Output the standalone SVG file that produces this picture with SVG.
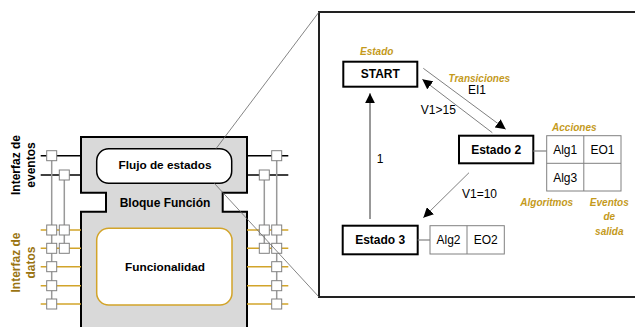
<svg xmlns="http://www.w3.org/2000/svg" width="635" height="327" viewBox="0 0 635 327">
<defs>
<marker id="ah" viewBox="0 0 10 10" refX="10" refY="5" markerWidth="10" markerHeight="10" markerUnits="userSpaceOnUse" orient="auto">
<path d="M0,0 L10,5 L0,10 Z" fill="#000"/>
</marker>
</defs>
<style>
text{font-family:"Liberation Sans",Arial,sans-serif;fill:#000}
.b{font-weight:bold;font-size:12px}
.r{font-size:12px}
.m{text-anchor:middle}
.lab{font-weight:bold;font-style:italic;font-size:10px;fill:#c49a1c;text-anchor:middle}
.sq{fill:#fff;stroke:#808080;stroke-width:1}
.ev{stroke:#000;stroke-width:1.5}
.da{stroke:#d2a42a;stroke-width:1.5}
.vl{stroke:#999;stroke-width:1.5}
.st{fill:#fff;stroke:#000;stroke-width:2}
.tb{fill:#fff;stroke:#808080;stroke-width:1}
.ar{stroke:#808080;stroke-width:1;fill:none;marker-end:url(#ah)}
.zl{stroke:#666;stroke-width:0.8;fill:none}
</style>
<rect x="319" y="12" width="330" height="285" fill="#fff" stroke="#222" stroke-width="2"/>

<g id="bloque">
<path d="M81,137 H247 V192.7 H222.7 V211.7 H247 V340 H81 V211.7 H106 V192.7 H81 Z" fill="#d9d9d9" stroke="#000" stroke-width="2"/>
<text class="b m" x="165" y="206.5">Bloque Función</text>
</g>
<g id="flujo">
<rect x="96.7" y="148.7" width="135" height="34.6" rx="12" fill="#fff" stroke="#000" stroke-width="1.5"/>
<text class="m" x="165" y="169.2" style="font-weight:bold;font-size:11.8px">Flujo de estados</text>
</g>
<g id="funcionalidad">
<rect x="96.7" y="228.3" width="135.3" height="76.7" rx="12" fill="#fff" stroke="#d2a42a" stroke-width="1.5"/>
<text class="m" x="165" y="270.8" style="font-weight:bold;font-size:11.8px">Funcionalidad</text>
</g>

<g id="interfaz-eventos">
<text class="b m" transform="translate(20,165) rotate(-90)">Interfaz de</text>
<text class="b m" transform="translate(34.5,165) rotate(-90)">eventos</text>
</g>
<g id="interfaz-datos">
<text class="b m" transform="translate(20,262.5) rotate(-90)" style="fill:#9a7412">Interfaz de</text>
<text class="b m" transform="translate(34.5,262.5) rotate(-90)" style="fill:#9a7412">datos</text>
</g>

<g id="puertos">
<line class="ev" x1="40.7" y1="155.7" x2="81" y2="155.7"/>
<line class="ev" x1="40.7" y1="175" x2="81" y2="175"/>
<line class="da" x1="40.7" y1="230" x2="81" y2="230"/>
<line class="da" x1="40.7" y1="248.3" x2="81" y2="248.3"/>
<line class="da" x1="40.7" y1="266.7" x2="81" y2="266.7"/>
<line class="da" x1="40.7" y1="285.7" x2="81" y2="285.7"/>
<line class="da" x1="40.7" y1="304" x2="81" y2="304"/>
<line class="vl" x1="51.7" y1="155.7" x2="51.7" y2="304"/>
<line class="vl" x1="64.3" y1="175" x2="64.3" y2="248.3"/>
<rect class="sq" x="46.7" y="150.7" width="10" height="10"/>
<rect class="sq" x="59.3" y="170" width="10" height="10"/>
<rect class="sq" x="46.7" y="225" width="10" height="10"/>
<rect class="sq" x="59.3" y="225" width="10" height="10"/>
<rect class="sq" x="46.7" y="243.3" width="10" height="10"/>
<rect class="sq" x="59.3" y="243.3" width="10" height="10"/>
<rect class="sq" x="46.7" y="261.7" width="10" height="10"/>
<rect class="sq" x="46.7" y="280.7" width="10" height="10"/>
<rect class="sq" x="46.7" y="299" width="10" height="10"/>

<line class="ev" x1="247" y1="155.7" x2="288.3" y2="155.7"/>
<line class="ev" x1="247" y1="175" x2="288.3" y2="175"/>
<line class="da" x1="247" y1="230" x2="288.3" y2="230"/>
<line class="da" x1="247" y1="248.3" x2="288.3" y2="248.3"/>
<line class="da" x1="247" y1="266.7" x2="288.3" y2="266.7"/>
<line class="da" x1="247" y1="285.7" x2="288.3" y2="285.7"/>
<line class="da" x1="247" y1="304" x2="288.3" y2="304"/>
<line class="vl" x1="276.7" y1="155.7" x2="276.7" y2="304"/>
<line class="vl" x1="264.3" y1="175" x2="264.3" y2="248.3"/>
<rect class="sq" x="271.7" y="150.7" width="10" height="10"/>
<rect class="sq" x="259.3" y="170" width="10" height="10"/>
<rect class="sq" x="271.7" y="225" width="10" height="10"/>
<rect class="sq" x="259.3" y="225" width="10" height="10"/>
<rect class="sq" x="271.7" y="243.3" width="10" height="10"/>
<rect class="sq" x="259.3" y="243.3" width="10" height="10"/>
<rect class="sq" x="271.7" y="261.7" width="10" height="10"/>
<rect class="sq" x="271.7" y="280.7" width="10" height="10"/>
<rect class="sq" x="271.7" y="299" width="10" height="10"/>
</g>

<g id="start">
<rect class="st" x="343.3" y="61.7" width="74" height="25"/>
<text class="b m" x="380.3" y="78">START</text>
</g>
<g id="estado2">
<rect class="st" x="459" y="135.7" width="74.3" height="27.6"/>
<text class="b m" x="496.2" y="154">Estado 2</text>
</g>
<g id="estado3">
<rect class="st" x="342.7" y="225.7" width="75" height="28.6"/>
<text class="b m" x="380.2" y="244.2">Estado 3</text>
</g>
<g id="acciones2">
<rect class="tb" x="546.7" y="135.7" width="74.3" height="55.3"/>
<line stroke="#808080" x1="583.8" y1="135.7" x2="583.8" y2="191"/>
<line stroke="#808080" x1="546.7" y1="163.3" x2="621" y2="163.3"/>
<text class="r m" x="565.2" y="154.3">Alg1</text>
<text class="r m" x="602.4" y="154.3">EO1</text>
<text class="r m" x="565.2" y="182">Alg3</text>
</g>
<g id="acciones3">
<rect class="tb" x="430" y="225.7" width="74.3" height="28.3"/>
<line stroke="#808080" x1="467" y1="225.7" x2="467" y2="254"/>
<text class="r m" x="448.5" y="244.2">Alg2</text>
<text class="r m" x="485.7" y="244.2">EO2</text>
</g>

<g id="etiquetas">
<text class="lab" x="376.7" y="55">Estado</text>
<text class="lab" x="479.3" y="82">Transiciones</text>
<text class="lab" x="574.3" y="131">Acciones</text>
<text class="lab" x="546.7" y="206">Algoritmos</text>
<text class="lab" x="609.3" y="205.5">Eventos</text>
<text class="lab" x="609.3" y="220">de</text>
<text class="lab" x="609.3" y="234.5">salida</text>
</g>

<g id="conectores">
<line stroke="#808080" stroke-width="1.2" x1="533.3" y1="151" x2="546.7" y2="151"/>
<line stroke="#808080" stroke-width="1.2" x1="417.7" y1="240" x2="430" y2="240"/>
<line class="ar" x1="423.3" y1="68.3" x2="505.7" y2="129.3"/>
<line class="ar" x1="492.3" y1="132.7" x2="422.3" y2="79.3"/>
<line class="ar" x1="469" y1="172.7" x2="423.3" y2="217.7"/>
<line class="ar" style="stroke:#333" x1="370" y1="219" x2="370" y2="93.3"/>
<text class="r m" x="477" y="94.3">EI1</text>
<text class="r m" x="438.3" y="114.3">V1&gt;15</text>
<text class="r m" x="380" y="163.3">1</text>
<text class="r m" x="479.5" y="197.5">V1=10</text>
<line class="zl" x1="216" y1="148.7" x2="319" y2="12"/>
<line class="zl" x1="214.3" y1="183.3" x2="319" y2="297"/>
</g>
</svg>
